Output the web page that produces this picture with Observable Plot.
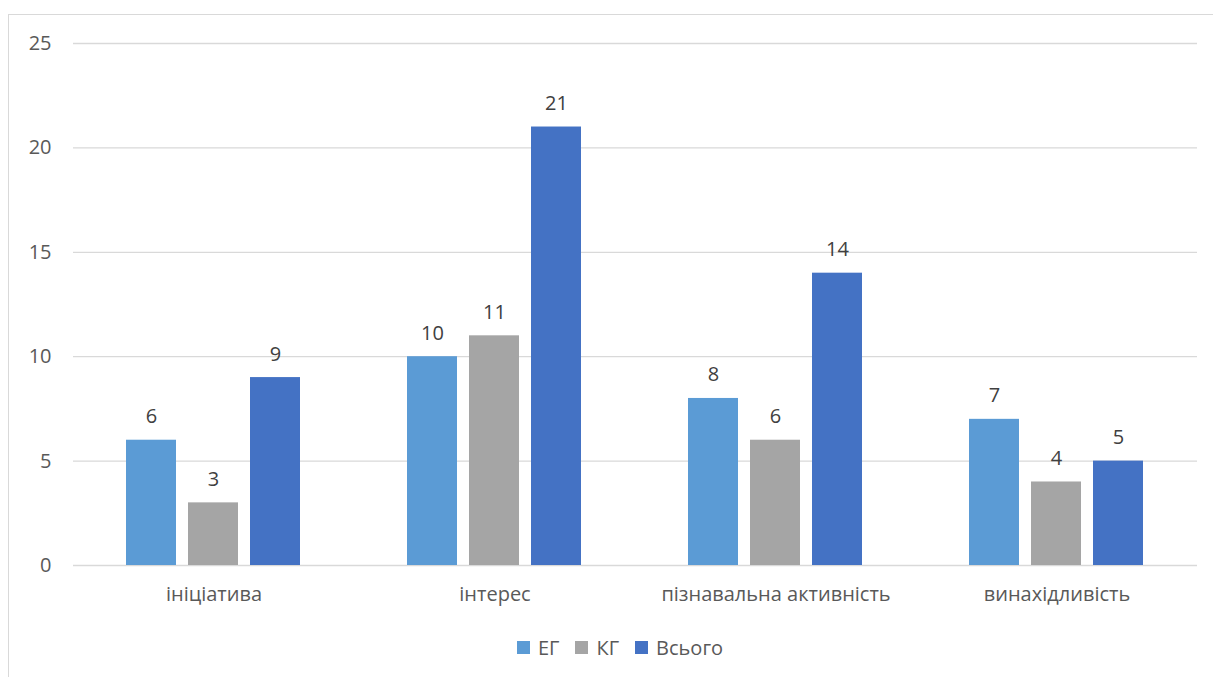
<!DOCTYPE html>
<html>
<head>
<meta charset="utf-8">
<script src="https://cdn.jsdelivr.net/npm/d3@7"></script>
<script src="https://cdn.jsdelivr.net/npm/@observablehq/plot@0.6"></script>
<style>
  html, body { margin: 0; padding: 0; background: #fff; overflow: hidden; }
  #frame { position: absolute; left: 8px; top: 14px; width: 1300px; height: 800px; border: 1px solid #d9d9d9; box-sizing: border-box; }
  #chart { position: absolute; left: 0; top: 0; }
  #legend { position: absolute; top: 634px; left: 0; width: 1240px; display: flex; justify-content: center; gap: 16px;
            font-family: "Open Sans", sans-serif; font-size: 20px; color: #595959; }
  .item { display: flex; align-items: center; gap: 8px; }
  .sw { width: 13px; height: 13px; display: inline-block; }
</style>
</head>
<body>
<div id="frame"></div>
<div id="chart"></div>
<div id="legend"></div>
<script>
const categories = ["ініціатива", "інтерес", "пізнавальна активність", "винахідливість"];
const series = ["ЕГ", "КГ", "Всього"];
const egValues = [6, 10, 8, 7];
const kgValues = [3, 11, 6, 4];
const totalValues = [9, 21, 14, 5];
const yTicks = [0, 5, 10, 15, 20, 25];
const colors = ["#5B9BD5", "#A5A5A5", "#4472C4"];

const valueSets = [egValues, kgValues, totalValues];
const data = [];
categories.forEach((c, i) => {
  series.forEach((s, j) => data.push({category: c, series: s, value: valueSets[j][i]}));
});

const chart = Plot.plot({
  width: 1213,
  height: 620,
  marginLeft: 72,
  marginRight: 16,
  marginTop: 43,
  marginBottom: 55,
  style: {fontFamily: "'Open Sans', sans-serif", fontSize: "20px", color: "#595959", background: "transparent"},
  fx: {domain: categories, padding: 0, label: null, axis: null},
  x: {domain: series, paddingInner: 0.2, paddingOuter: 0.85, axis: null},
  y: {domain: [0, 25], label: null, axis: null},
  color: {domain: series, range: colors},
  marks: [
    Plot.gridY(yTicks.slice(1), {stroke: "#d9d9d9", strokeOpacity: 1, strokeWidth: 1.3}),
    Plot.ruleY([0], {stroke: "#d9d9d9", strokeWidth: 1.3}),
    Plot.barY(data, {fx: "category", x: "series", y: "value", fill: "series", dx: -1}),
    Plot.text(data, {fx: "category", x: "series", y: "value", text: d => String(d.value),
      lineAnchor: "bottom", dy: -17, dx: -1, fontSize: 20, fill: "#404040"}),
    Plot.axisY(yTicks, {tickSize: 0, tickPadding: 22, fontSize: 20, label: null}),
    Plot.axisFx({anchor: "bottom", tickSize: 0, tickPadding: 21, fontSize: 20, label: null})
  ]
});
document.getElementById("chart").appendChild(chart);

const legend = document.getElementById("legend");
series.forEach((s, i) => {
  const it = document.createElement("div");
  it.className = "item";
  const sw = document.createElement("span");
  sw.className = "sw";
  sw.style.background = colors[i];
  const t = document.createElement("span");
  t.textContent = s;
  it.appendChild(sw);
  it.appendChild(t);
  legend.appendChild(it);
});
</script>
</body>
</html>
